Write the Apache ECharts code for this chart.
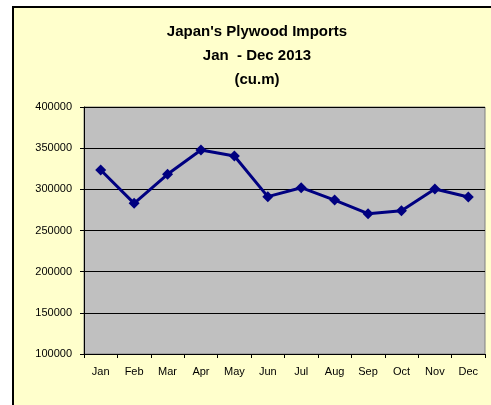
<!DOCTYPE html>
<html>
<head>
<meta charset="utf-8">
<script src="https://cdn.jsdelivr.net/npm/echarts@6/dist/echarts.min.js"></script>
<style>
  html, body { margin: 0; padding: 0; background: #fff; }
  #chart { width: 491px; height: 405px; }
</style>
</head>
<body>
<div id="chart"></div>
<script>
// months on the x axis
var months = ['Jan', 'Feb', 'Mar', 'Apr', 'May', 'Jun', 'Jul', 'Aug', 'Sep', 'Oct', 'Nov', 'Dec'];
// plywood imports, cu.m
var imports = [323500, 283000, 318300, 347800, 340500, 291100, 302000, 287000, 270400, 274000, 300400, 290700];
var titleLines = ["Japan's Plywood Imports", 'Jan  - Dec 2013', '(cu.m)'];

window.onload = function () {
    var chart = echarts.init(document.getElementById('chart'), null, { renderer: 'canvas' });

    var option = {
        backgroundColor: '#ffffff',
        animation: false,
        textStyle: { fontFamily: 'Liberation Sans, Arial, sans-serif' },
        // yellow chart frame
        graphic: [
            {
                type: 'rect',
                z: -10,
                shape: { x: 13, y: 7, width: 520, height: 440 },
                style: { fill: '#FFFFCC', stroke: '#000000', lineWidth: 2 }
            }
        ],
        title: {
            text: titleLines.join('\n'),
            left: 257,
            top: 20,
            padding: 0,
            textAlign: 'center',
            textStyle: {
                fontSize: 15,
                fontWeight: 'bold',
                color: '#000000',
                lineHeight: 24,
                fontFamily: 'Liberation Sans, Arial, sans-serif'
            }
        },
        grid: {
            left: 84,
            top: 107,
            width: 401,
            height: 247,
            show: true,
            backgroundColor: '#C0C0C0',
            borderColor: '#808080',
            borderWidth: 1
        },
        xAxis: {
            type: 'category',
            data: months,
            boundaryGap: true,
            axisLine: { lineStyle: { color: '#000000', width: 1 } },
            axisTick: { show: true, length: 4, lineStyle: { color: '#000000' } },
            axisLabel: { color: '#000000', fontSize: 11, margin: 12 },
            splitLine: { show: false }
        },
        yAxis: {
            type: 'value',
            min: 100000,
            max: 400000,
            interval: 50000,
            axisLine: { show: true, lineStyle: { color: '#000000', width: 1 } },
            axisTick: { show: true, length: 4, lineStyle: { color: '#000000' } },
            axisLabel: {
                color: '#000000',
                fontSize: 11,
                margin: 12,
                formatter: function (v) { return String(v); }
            },
            splitLine: { show: true, lineStyle: { color: '#000000', width: 1 } }
        },
        series: [
            {
                type: 'line',
                data: imports,
                symbol: 'diamond',
                symbolSize: 11,
                lineStyle: { color: '#000080', width: 3 },
                itemStyle: { color: '#000080' }
            }
        ]
    };

    chart.setOption(option);
};
</script>
</body>
</html>
